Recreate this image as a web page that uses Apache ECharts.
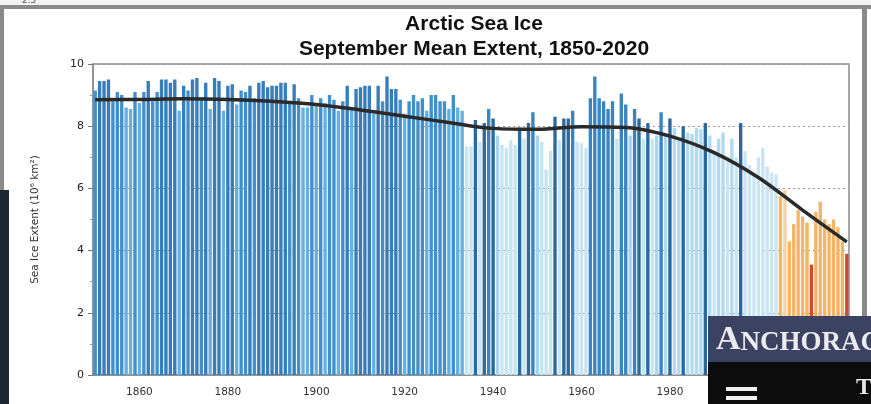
<!DOCTYPE html>
<html>
<head>
<meta charset="utf-8">
<script src="https://cdn.jsdelivr.net/npm/echarts@6/dist/echarts.min.js"></script>
<style>html,body{margin:0;padding:0;background:#fff}#c{width:871px;height:404px}</style>
</head>
<body>
<div id="c"></div>
<script>
// ---- data ----
const firstYear = 1850;
const lastYear = 2020;
const extent = [
  // 1850s
  9.15, 9.45, 9.45, 9.5, 8.8, 9.1, 9.0, 8.6, 8.55, 9.1,
  // 1860s
  8.75, 9.1, 9.45, 8.8, 9.1, 9.5, 9.5, 9.4, 9.5, 8.5,
  // 1870s
  9.3, 9.15, 9.5, 9.55, 8.9, 9.4, 8.55, 9.55, 9.45, 8.5,
  // 1880s
  9.3, 9.35, 8.7, 9.15, 9.1, 9.3, 8.9, 9.4, 9.45, 9.25,
  // 1890s
  9.3, 9.3, 9.4, 9.4, 8.8, 9.35, 8.9, 8.6, 8.6, 9.0,
  // 1900s
  8.7, 8.9, 8.75, 9.0, 8.85, 8.5, 8.8, 9.3, 8.6, 9.2,
  // 1910s
  9.25, 9.3, 9.3, 8.4, 9.3, 8.8, 9.6, 9.2, 9.2, 8.85,
  // 1920s
  8.4, 8.8, 9.0, 8.8, 8.9, 8.5, 9.0, 9.0, 8.8, 8.8,
  // 1930s
  8.55, 9.0, 8.6, 8.5, 7.35, 7.35, 8.2, 7.5, 8.1, 8.55,
  // 1940s
  8.25, 7.7, 7.4, 7.3, 7.55, 7.4, 7.95, 7.6, 8.1, 8.45,
  // 1950s
  7.7, 7.5, 6.6, 7.2, 8.3, 7.55, 8.25, 8.25, 8.5, 7.5,
  // 1960s
  7.45, 7.3, 8.9, 9.6, 8.9, 8.8, 8.55, 8.8, 7.6, 9.05,
  // 1970s
  8.7, 7.7, 8.55, 8.25, 7.6, 8.1, 7.6, 7.7, 8.45, 7.75,
  // 1980s
  8.25, 7.95, 7.6, 8.0, 7.8, 7.75, 7.95, 7.9, 8.1, 7.7,
  // 1990s
  7.2, 7.6, 7.8, 7.0, 7.6, 7.0, 8.1, 7.2, 6.75, 6.5,
  // 2000s
  7.0, 7.3, 6.7, 6.5, 6.45, 5.75, 5.95, 4.3, 4.85, 5.3,
  // 2010s
  5.1, 4.9, 3.55, 5.25, 5.57, 5.0, 4.85, 5.0, 4.75, 4.3,
  // 2020
  3.9
];
const trendYears = [1850, 1860, 1870, 1880, 1890, 1900, 1910, 1920, 1930, 1940, 1950, 1960, 1970, 1980, 1990, 2000, 2010, 2020];
const trendValues = [8.85, 8.86, 8.88, 8.86, 8.8, 8.7, 8.52, 8.32, 8.12, 7.93, 7.9, 7.98, 7.96, 7.68, 7.15, 6.35, 5.3, 4.28];
const yTicks = [0, 2, 4, 6, 8, 10];

// ---- build ----
const years = [];
for (let y = firstYear; y <= lastYear; y++) years.push(String(y));

function barColor(year, v) {
  if (year >= 2005) {
    if (v < 4.0) return '#cf4a2e';
    if (v > 5.8) return '#f7d2a4';
    return '#f4b468';
  }
  if (year >= 1979) {
    if (v >= 8.0) return '#2b679b';
    if (v >= 7.5) return '#b2d9ef';
    return '#c9e5f3';
  }
  if (year >= 1934) {
    if (v >= 8.4) return '#3a84bf';
    if (v >= 7.9) return '#2c6a9e';
    if (v >= 7.65) return '#a9d4ee';
    return '#c7e4f3';
  }
  if (v >= 9.2) return '#377dba';
  if (v >= 8.8) return '#438fca';
  return '#66b0df';
}

const barData = extent.map((v, i) => ({
  value: v,
  itemStyle: { color: barColor(firstYear + i, v) }
}));
const trendData = trendYears.map((y, i) => [y - firstYear, trendValues[i]]);

const chart = echarts.init(document.getElementById('c'), null, { renderer: 'canvas' });
chart.setOption({
  animation: false,
  backgroundColor: '#ffffff',
  title: {
    text: 'Arctic Sea Ice',
    subtext: 'September Mean Extent, 1850-2020',
    left: 469,
    top: 9,
    textAlign: 'center',
    itemGap: 4,
    textStyle: { fontFamily: 'Liberation Sans', fontWeight: 'bold', fontSize: 21, color: '#111' },
    subtextStyle: { fontFamily: 'Liberation Sans', fontWeight: 'bold', fontSize: 21, color: '#111' }
  },
  grid: {
    left: 93, right: 22, top: 64, bottom: 29,
    show: true, borderColor: '#8c8c8c', borderWidth: 1.5, backgroundColor: 'transparent'
  },
  xAxis: {
    type: 'category',
    data: years,
    boundaryGap: true,
    axisLine: { lineStyle: { color: '#8c8c8c', width: 1.5 } },
    axisTick: {
      alignWithLabel: true,
      length: 5,
      lineStyle: { color: '#777' },
      interval: (idx) => (firstYear + idx) % 10 === 0
    },
    axisLabel: {
      interval: (idx) => (firstYear + idx) % 20 === 0 && (firstYear + idx) !== 1850 ? true : false,
      margin: 12,
      fontFamily: 'DejaVu Sans',
      fontSize: 10.5,
      color: '#333'
    },
    splitLine: { show: false }
  },
  yAxis: {
    type: 'value',
    min: yTicks[0],
    max: yTicks[yTicks.length - 1],
    interval: 2,
    name: 'Sea Ice Extent (10\u2076 km\u00B2)',
    nameLocation: 'middle',
    nameGap: 52,
    nameTextStyle: { fontFamily: 'DejaVu Sans', fontSize: 10.5, color: '#333' },
    axisLine: { show: true, lineStyle: { color: '#8c8c8c', width: 1.5 } },
    axisTick: { show: true, length: 5, lineStyle: { color: '#777' } },
    minorTick: { show: true, splitNumber: 2, length: 3, lineStyle: { color: '#999' } },
    axisLabel: { fontFamily: 'DejaVu Sans', fontSize: 11, color: '#222', margin: 9,
      formatter: (v) => yTicks.indexOf(v) >= 0 ? String(v) : '' },
    splitLine: { show: true, lineStyle: { color: '#9a9a9a', type: [2, 3], width: 1 } }
  },
  series: [
    {
      type: 'bar',
      data: barData,
      barCategoryGap: '24%',
      z: 2
    },
    {
      type: 'line',
      data: trendData,
      smooth: 0.35,
      showSymbol: false,
      symbol: 'none',
      lineStyle: { color: '#2a2a2a', width: 3.5 },
      z: 5
    }
  ],
  graphic: [
    // screenshot frame artefacts
    { type: 'rect', shape: { x: 0, y: 0, width: 871, height: 5 }, style: { fill: '#f2f2f2' }, z: 100 },
    { type: 'text', x: 22, y: -4, style: { text: '2.5', fontSize: 9, fill: '#555', fontFamily: 'DejaVu Sans' }, z: 101 },
    { type: 'rect', shape: { x: 0, y: 5, width: 871, height: 4 }, style: { fill: '#8a8a8a' }, z: 100 },
    { type: 'rect', shape: { x: 0, y: 5, width: 4, height: 399 }, style: { fill: '#8a8a8a' }, z: 100 },
    { type: 'rect', shape: { x: 0, y: 190, width: 9, height: 214 }, style: { fill: '#1d2833' }, z: 100 },
    { type: 'rect', shape: { x: 862, y: 5, width: 5, height: 399 }, style: { fill: '#8a8a8a' }, z: 100 },
    // newspaper header overlay
    { type: 'rect', shape: { x: 708, y: 316, width: 163, height: 46 }, style: { fill: '#3b4262' }, z: 110 },
    { type: 'rect', shape: { x: 708, y: 362, width: 163, height: 42 }, style: { fill: '#0c0c0c' }, z: 110 },
    { type: 'text', x: 716, y: 323, z: 111,
      style: { text: '{a|A}{b|NCHORAGE DAILY NEWS}',
        rich: {
          a: { fontFamily: 'Liberation Serif', fontWeight: 'bold', fontSize: 34, fill: '#ececf0', verticalAlign: 'bottom' },
          b: { fontFamily: 'Liberation Serif', fontWeight: 'bold', fontSize: 27, fill: '#ececf0', verticalAlign: 'bottom' }
        } } },
    { type: 'rect', shape: { x: 726, y: 387, width: 31, height: 4 }, style: { fill: '#f0f0f0' }, z: 111 },
    { type: 'rect', shape: { x: 726, y: 396, width: 31, height: 4 }, style: { fill: '#f0f0f0' }, z: 111 },
    { type: 'text', x: 856, y: 376, z: 111,
      style: { text: 'T', fontFamily: 'Liberation Serif', fontWeight: 'bold', fontSize: 24, fill: '#e8e8e8' } }
  ]
});
</script>
</body>
</html>
